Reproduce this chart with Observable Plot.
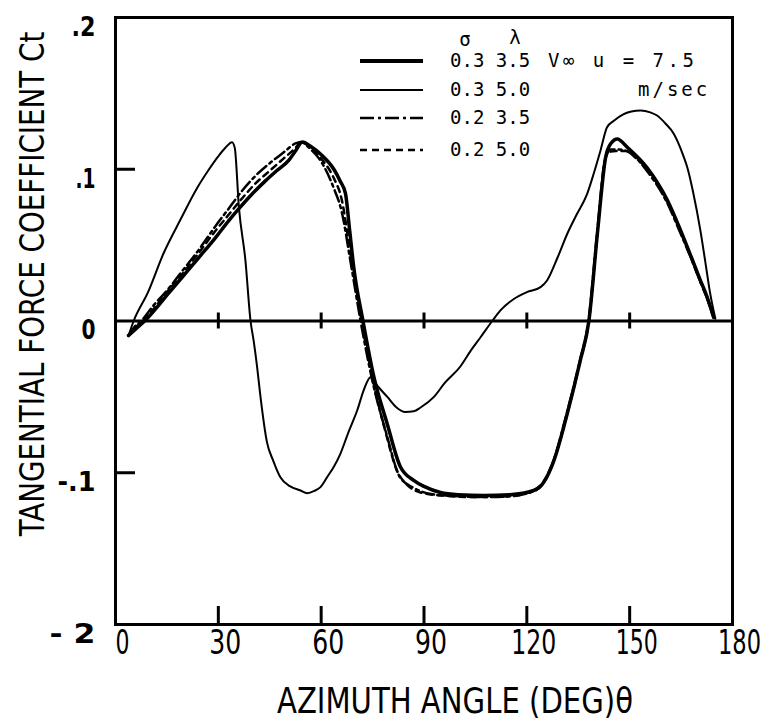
<!DOCTYPE html>
<html>
<head>
<meta charset="utf-8">
<script src="https://cdn.jsdelivr.net/npm/d3@7"></script>
<script src="https://cdn.jsdelivr.net/npm/@observablehq/plot@0.6"></script>
<style>
  html, body { margin: 0; padding: 0; background: #fff; }
  #chart svg { display: block; }
</style>
</head>
<body>
<div id="chart"></div>
<script>
// ---------------- data ----------------
const xTicks = [0, 30, 60, 90, 120, 150, 180];
const xTickLabels = ["0", "30", "60", "90", "120", "150", "180"];
const xInnerTicks = [30, 60, 90, 120, 150];
const yTicks = [0.2, 0.1, 0, -0.1, -0.2];
const yTickLabels = [".2", ".1", "0", "-.1", "- 2"];
const yMinorTicks = [0.1, -0.1];

const xTitle = "AZIMUTH ANGLE (DEG)\u03B8";
const yTitle = "TANGENTIAL FORCE COEFFICIENT Ct";

const legendHeader = ["\u03C3", "\u03BB"];
const seriesLabels = ["0.3 3.5", "0.3 5.0", "0.2 3.5", "0.2 5.0"];
const windNote = ["V\u221E u = 7.5", "m/sec"];

// sigma = 0.3, lambda = 3.5 (thick solid)
const theta_03_35 = [3.8, 6, 8.5, 11.7, 15, 19.5, 24, 29.2, 33, 36, 40, 43.8, 47, 50.6, 52.5, 54.5, 57, 59.8, 63.7, 65.6, 67.1, 68.3, 69.5, 72.2, 75.4, 79.3, 83.1, 87, 90, 94.8, 100, 107.4, 115, 122, 125, 127.9, 131.8, 135.6, 138.1, 140.6, 143, 144.5, 146.4, 149.3, 155.1, 160.9, 164.8, 168, 170.6, 172.6, 174.5];
const ct_03_35 = [-0.0096, -0.005, 0, 0.008, 0.017, 0.029, 0.041, 0.055, 0.066, 0.074, 0.084, 0.0925, 0.099, 0.106, 0.112, 0.118, 0.115, 0.110, 0.100, 0.092, 0.084, 0.060, 0.0355, 0, -0.037, -0.068, -0.096, -0.105, -0.109, -0.113, -0.1145, -0.115, -0.1145, -0.1117, -0.106, -0.092, -0.061, -0.026, 0, 0.058, 0.108, 0.117, 0.120, 0.1145, 0.101, 0.080, 0.060, 0.042, 0.027, 0.0157, 0.0025];

// sigma = 0.3, lambda = 5.0 (thin solid)
const theta_03_50 = [3.8, 5.3, 9.5, 14, 19, 23.9, 27, 29.8, 32, 34, 34.8, 36, 37.9, 39.4, 40.3, 41.3, 42.3, 44.2, 46, 48.1, 51, 54, 55.9, 58, 59.8, 62, 63.7, 65.6, 68, 70.5, 72.5, 74.4, 76.5, 79.3, 82, 84.5, 87, 89, 92.9, 96, 100.6, 103.5, 106.5, 109.9, 112.3, 116.2, 120, 124, 125.9, 129, 131.8, 134.5, 137.6, 139.5, 141.5, 143.4, 145.4, 148, 150.5, 153.2, 156, 158, 160.5, 162.9, 165.8, 166.8, 168.5, 170.6, 172, 173.5, 175];
const ct_03_50 = [-0.0096, 0, 0.019, 0.0445, 0.067, 0.088, 0.099, 0.108, 0.114, 0.1178, 0.114, 0.075, 0.040, 0, -0.013, -0.030, -0.050, -0.080, -0.092, -0.103, -0.109, -0.1117, -0.1135, -0.112, -0.1095, -0.102, -0.096, -0.0875, -0.073, -0.059, -0.045, -0.037, -0.043, -0.050, -0.057, -0.060, -0.0595, -0.057, -0.050, -0.041, -0.030, -0.020, -0.0107, 0, 0.007, 0.0145, 0.019, 0.0223, 0.0267, 0.042, 0.0575, 0.070, 0.0838, 0.097, 0.1124, 0.1277, 0.132, 0.136, 0.138, 0.1387, 0.1375, 0.1354, 0.130, 0.1233, 0.108, 0.1013, 0.085, 0.060, 0.040, 0.018, 0.0015];

// sigma = 0.2, lambda = 3.5 (dash-dot)
const theta_02_35 = [3.8, 5.5, 7.5, 11, 15, 19.5, 24, 29, 33, 37, 41, 45, 49, 52.5, 54, 57, 60, 63.6, 66, 68.5, 71.5, 75, 79, 83, 87, 92, 100, 108, 115, 121, 124.5, 127.5, 131.5, 135.5, 138, 140.5, 142.8, 144.5, 147, 150, 155, 160.9, 164.8, 168, 170.6, 172.6, 174.5];
const ct_02_35 = [-0.0096, -0.004, 0, 0.010, 0.020, 0.033, 0.046, 0.062, 0.074, 0.086, 0.096, 0.104, 0.111, 0.117, 0.118, 0.113, 0.105, 0.088, 0.072, 0.040, 0, -0.040, -0.074, -0.103, -0.110, -0.114, -0.1155, -0.116, -0.1155, -0.113, -0.108, -0.094, -0.062, -0.026, 0, 0.058, 0.106, 0.113, 0.113, 0.111, 0.099, 0.078, 0.058, 0.041, 0.026, 0.015, 0.002];

// sigma = 0.2, lambda = 5.0 (dashed)
const theta_02_50 = [3.8, 6, 8, 11.5, 15, 19.5, 24, 29, 33, 37, 41, 45, 49, 52.5, 54.2, 57, 60, 63.5, 66, 68.5, 71.8, 75.2, 79, 82, 85.1, 89, 95, 105, 115, 121.5, 124.8, 127.8, 131.8, 135.6, 138.1, 140.6, 142.7, 143.5, 146, 149, 152, 155.1, 160.9, 164.8, 168, 170.6, 172.6, 174.5];
const ct_02_50 = [-0.0096, -0.004, 0, 0.009, 0.019, 0.031, 0.044, 0.059, 0.070, 0.081, 0.091, 0.099, 0.107, 0.114, 0.118, 0.114, 0.107, 0.095, 0.080, 0.045, 0, -0.040, -0.075, -0.098, -0.108, -0.113, -0.115, -0.116, -0.1155, -0.112, -0.106, -0.092, -0.061, -0.026, 0, 0.058, 0.104, 0.111, 0.112, 0.112, 0.107, 0.100, 0.079, 0.059, 0.041, 0.026, 0.015, 0.002];

// ---------------- build tables ----------------
const toRows = (th, ct) => th.map((t, i) => ({theta: t, ct: ct[i]}));
const rows_03_35 = toRows(theta_03_35, ct_03_35);
const rows_03_50 = toRows(theta_03_50, ct_03_50);
const rows_02_35 = toRows(theta_02_35, ct_02_35);
const rows_02_50 = toRows(theta_02_50, ct_02_50);

const narrow = "'Liberation Sans Narrow', 'Arial Narrow', 'DejaVu Sans Condensed', 'DejaVu Sans', sans-serif";
const mono = "'DejaVu Sans Mono', 'Liberation Mono', monospace";

const chart = Plot.plot({
  width: 782,
  height: 728,
  marginLeft: 115,
  marginRight: 50,
  marginTop: 17,
  marginBottom: 104,
  x: {domain: [0, 180], axis: null},
  y: {domain: [-0.2, 0.2], axis: null},
  style: {background: "#fff", color: "#000", fontFamily: narrow},
  marks: [
    Plot.frame({stroke: "#000", strokeWidth: 3}),
    Plot.ruleY([0], {stroke: "#000", strokeWidth: 3}),
    // inward ticks on bottom axis
    Plot.ruleX(xInnerTicks, {x: d => d, y1: -0.2, y2: -0.2, insetTop: -18, stroke: "#000", strokeWidth: 3}),
    // crossing ticks on zero line
    Plot.ruleX(xInnerTicks, {x: d => d, y1: 0, y2: 0, insetTop: -8, insetBottom: -8, stroke: "#000", strokeWidth: 3}),
    // inward ticks on left axis
    Plot.ruleY(yMinorTicks, {y: d => d, x1: 0, x2: 0, insetRight: -20, stroke: "#000", strokeWidth: 3}),
    // curves
    Plot.line(rows_03_35, {x: "theta", y: "ct", curve: "monotone-x", stroke: "#000", strokeWidth: 3.5}),
    Plot.line(rows_03_50, {x: "theta", y: "ct", curve: "monotone-x", stroke: "#000", strokeWidth: 2}),
    Plot.line(rows_02_35, {x: "theta", y: "ct", curve: "monotone-x", stroke: "#000", strokeWidth: 2.5, strokeDasharray: "12,4,3,4"}),
    Plot.line(rows_02_50, {x: "theta", y: "ct", curve: "monotone-x", stroke: "#000", strokeWidth: 2.5, strokeDasharray: "6,5"}),
    // tick labels
    Plot.text(xTicks, {x: d => d, frameAnchor: "bottom", text: (d, i) => xTickLabels[i], dx: 7, dy: 29, fontSize: 34, fill: "#000"}),
    Plot.text(yTicks, {y: d => d, frameAnchor: "left", text: (d, i) => yTickLabels[i], textAnchor: "end", dx: -20, dy: 10, fontSize: 26, fontWeight: "bold", fill: "#000"}),
    // axis titles
    Plot.text([xTitle], {frameAnchor: "bottom", text: d => d, textAnchor: "middle", dx: 31, dy: 88, fontSize: 35, fill: "#000"}),
    Plot.text([yTitle], {frameAnchor: "left", text: d => d, textAnchor: "middle", rotate: -90, dx: -82, dy: -37, fontSize: 33, fill: "#000"})
  ]
});
document.getElementById("chart").appendChild(chart);

// condense the lettering like the original typeset (narrow glyphs)
const svg = d3.select(chart);
const widthFor = new Map([
  [xTitle, 356],
  ["0", 14], ["30", 32], ["60", 32], ["90", 32], ["120", 45], ["150", 42], ["180", 43],
  [".2", 24], [".1", 20], ["-.1", 38], ["- 2", 46]
]);
svg.selectAll("text").each(function () {
  const t = this.textContent;
  if (widthFor.has(t)) {
    d3.select(this).attr("textLength", widthFor.get(t)).attr("lengthAdjust", "spacingAndGlyphs");
  } else if (t === yTitle) {
    // rotated title: squeeze along its own direction with a transform
    const natural = this.getComputedTextLength();
    const k = natural > 0 ? 505 / natural : 1;
    const tr = this.getAttribute("transform") || "";
    this.setAttribute("transform", `${tr} scale(${k.toFixed(4)},1)`);
  }
});

// ---------------- legend inside the frame ----------------
const lg = svg.append("g").attr("fill", "#000").attr("font-family", mono).attr("font-size", 19).attr("text-anchor", "start");
const rowY = [61, 90, 118, 150];
const lineStyles = [
  {w: 4, dash: null},
  {w: 2, dash: null},
  {w: 2.5, dash: "14,4,3,4"},
  {w: 2.5, dash: "7,5"}
];
lg.append("text").attr("x", 465).attr("y", 40).attr("text-anchor", "middle").attr("dominant-baseline", "middle").text(legendHeader[0]);
lg.append("text").attr("x", 515).attr("y", 38).attr("text-anchor", "middle").attr("dominant-baseline", "middle").text(legendHeader[1]);
seriesLabels.forEach((lab, i) => {
  const s = lineStyles[i];
  const ln = lg.append("line").attr("x1", 360).attr("x2", 423).attr("y1", rowY[i]).attr("y2", rowY[i])
    .attr("stroke", "#000").attr("stroke-width", s.w);
  if (s.dash) ln.attr("stroke-dasharray", s.dash);
  lg.append("text").attr("x", 450).attr("y", rowY[i]).attr("text-anchor", "start").attr("dominant-baseline", "middle").text(lab);
});
lg.append("text").attr("x", 548).attr("y", rowY[0]).attr("text-anchor", "start").attr("dominant-baseline", "middle").attr("letter-spacing", 3.5).text(windNote[0]);
lg.append("text").attr("x", 638).attr("y", rowY[1]).attr("text-anchor", "start").attr("dominant-baseline", "middle").attr("letter-spacing", 3).text(windNote[1]);
</script>
</body>
</html>
